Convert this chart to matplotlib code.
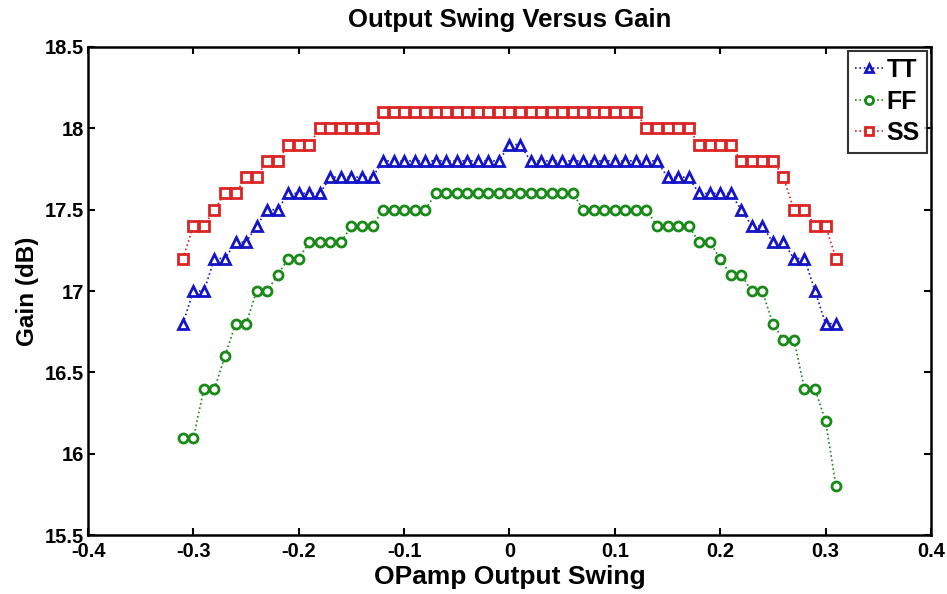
import matplotlib
matplotlib.use("Agg")
import matplotlib.pyplot as plt

plt.rcParams['font.family'] = ['Liberation Sans', 'DejaVu Sans']
plt.rcParams['font.weight'] = 'bold'

# OPamp output swing (V)
swing = [-0.31, -0.30, -0.29, -0.28, -0.27, -0.26, -0.25, -0.24, -0.23, -0.22,
         -0.21, -0.20, -0.19, -0.18, -0.17, -0.16, -0.15, -0.14, -0.13, -0.12,
         -0.11, -0.10, -0.09, -0.08, -0.07, -0.06, -0.05, -0.04, -0.03, -0.02,
         -0.01, 0.00, 0.01, 0.02, 0.03, 0.04, 0.05, 0.06, 0.07, 0.08,
         0.09, 0.10, 0.11, 0.12, 0.13, 0.14, 0.15, 0.16, 0.17, 0.18,
         0.19, 0.20, 0.21, 0.22, 0.23, 0.24, 0.25, 0.26, 0.27, 0.28,
         0.29, 0.30, 0.31]

gain_tt = [16.8, 17.0, 17.0, 17.2, 17.2, 17.3, 17.3, 17.4, 17.5, 17.5,
           17.6, 17.6, 17.6, 17.6, 17.7, 17.7, 17.7, 17.7, 17.7, 17.8,
           17.8, 17.8, 17.8, 17.8, 17.8, 17.8, 17.8, 17.8, 17.8, 17.8,
           17.8, 17.9, 17.9, 17.8, 17.8, 17.8, 17.8, 17.8, 17.8, 17.8,
           17.8, 17.8, 17.8, 17.8, 17.8, 17.8, 17.7, 17.7, 17.7, 17.6,
           17.6, 17.6, 17.6, 17.5, 17.4, 17.4, 17.3, 17.3, 17.2, 17.2,
           17.0, 16.8, 16.8]

gain_ff = [16.1, 16.1, 16.4, 16.4, 16.6, 16.8, 16.8, 17.0, 17.0, 17.1,
           17.2, 17.2, 17.3, 17.3, 17.3, 17.3, 17.4, 17.4, 17.4, 17.5,
           17.5, 17.5, 17.5, 17.5, 17.6, 17.6, 17.6, 17.6, 17.6, 17.6,
           17.6, 17.6, 17.6, 17.6, 17.6, 17.6, 17.6, 17.6, 17.5, 17.5,
           17.5, 17.5, 17.5, 17.5, 17.5, 17.4, 17.4, 17.4, 17.4, 17.3,
           17.3, 17.2, 17.1, 17.1, 17.0, 17.0, 16.8, 16.7, 16.7, 16.4,
           16.4, 16.2, 15.8]

gain_ss = [17.2, 17.4, 17.4, 17.5, 17.6, 17.6, 17.7, 17.7, 17.8, 17.8,
           17.9, 17.9, 17.9, 18.0, 18.0, 18.0, 18.0, 18.0, 18.0, 18.1,
           18.1, 18.1, 18.1, 18.1, 18.1, 18.1, 18.1, 18.1, 18.1, 18.1,
           18.1, 18.1, 18.1, 18.1, 18.1, 18.1, 18.1, 18.1, 18.1, 18.1,
           18.1, 18.1, 18.1, 18.1, 18.0, 18.0, 18.0, 18.0, 18.0, 17.9,
           17.9, 17.9, 17.9, 17.8, 17.8, 17.8, 17.8, 17.7, 17.5, 17.5,
           17.4, 17.4, 17.2]

x_ticks = [-0.4, -0.3, -0.2, -0.1, 0, 0.1, 0.2, 0.3, 0.4]
x_labels = ['-0.4', '-0.3', '-0.2', '-0.1', '0', '0.1', '0.2', '0.3', '0.4']
y_ticks = [15.5, 16, 16.5, 17, 17.5, 18, 18.5]
y_labels = ['15.5', '16', '16.5', '17', '17.5', '18', '18.5']

fig = plt.figure(figsize=(9.47, 5.94), dpi=100)
ax = fig.add_axes([0.093, 0.099, 0.890, 0.822])

ax.plot(swing, gain_tt, ':', color='#1414c8', marker='^', markersize=6.5,
        markeredgewidth=2, markerfacecolor='white', linewidth=1.2, label='TT')
ax.plot(swing, gain_ff, ':', color='#178a17', marker='o', markersize=6.5,
        markeredgewidth=2, markerfacecolor='white', linewidth=1.2, label='FF')
ax.plot(swing, gain_ss, ':', color='#dc2424', marker='s', markersize=6.5,
        markeredgewidth=2, markerfacecolor='white', linewidth=1.2, label='SS')

ax.set_xlim(-0.4, 0.4)
ax.set_ylim(15.5, 18.5)
ax.set_xticks(x_ticks)
ax.set_xticklabels(x_labels)
ax.set_yticks(y_ticks)
ax.set_yticklabels(y_labels)
ax.tick_params(direction='in', top=True, right=True, length=5, width=1.5,
               labelsize=14.5, pad=5)
ax.tick_params(axis='y', pad=3)
for s in ax.spines.values():
    s.set_linewidth(1.8)

ax.set_title('Output Swing Versus Gain', fontsize=18.5, fontweight='bold', pad=14)
ax.set_xlabel('OPamp Output Swing', fontsize=19, fontweight='bold', labelpad=3)
ax.set_ylabel('Gain (dB)', fontsize=17.5, fontweight='bold', labelpad=4)

leg = ax.legend(loc='upper right', fontsize=18, frameon=True, fancybox=False,
                handlelength=1.1, handletextpad=0.15, borderpad=0.3,
                labelspacing=0.3, borderaxespad=0.15, markerscale=0.9)
leg.get_frame().set_edgecolor('black')
leg.get_frame().set_linewidth(1.5)

fig.savefig('out.png', dpi=100)
